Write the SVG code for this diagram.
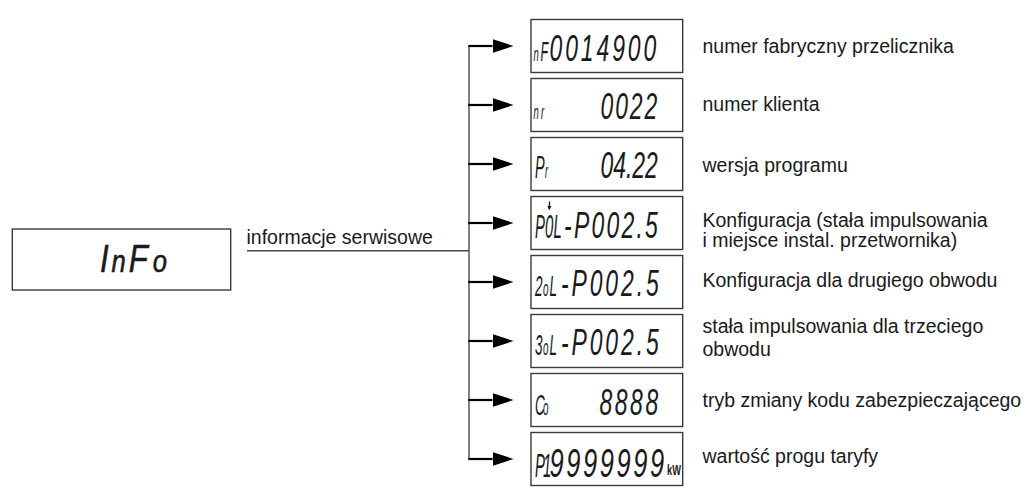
<svg xmlns="http://www.w3.org/2000/svg" width="1035" height="494" viewBox="0 0 1035 494">
  <style>
    .box { fill: #ffffff; stroke: #3a3a3a; stroke-width: 1.4; }
    .lcd { font-family: "Liberation Sans", Arial, sans-serif; font-style: italic; fill: #1a1a1a; }
    .big { font-size: 37px; }
    .lbl { font-family: "Liberation Sans", Arial, sans-serif; font-size: 19.5px; fill: #1a1a1a; }
    .bus { fill: none; stroke: #4a4a4a; stroke-width: 1.4; }
    .shaft { fill: none; stroke: #000000; stroke-width: 2.2; marker-end: url(#head); }
  </style>
  <defs>
    <marker id="head" viewBox="0 0 21 14" refX="0" refY="7" markerWidth="21" markerHeight="14" markerUnits="userSpaceOnUse" orient="auto">
      <polygon points="0,0 21,7 0,14" fill="#000000"/>
    </marker>
  </defs>
  <rect width="1035" height="494" fill="#ffffff"/>

  <!-- connectors: feed line, vertical bus and one arrow per display -->
  <g id="connectors">
    <line class="bus" x1="247" y1="250.7" x2="469" y2="250.7"/>
    <line class="bus" x1="469" y1="46" x2="469" y2="459"/>
    <line class="shaft" x1="468.3" y1="46" x2="492.5" y2="46"/>
    <line class="shaft" x1="468.3" y1="105" x2="492.5" y2="105"/>
    <line class="shaft" x1="468.3" y1="164" x2="492.5" y2="164"/>
    <line class="shaft" x1="468.3" y1="223" x2="492.5" y2="223"/>
    <line class="shaft" x1="468.3" y1="282" x2="492.5" y2="282"/>
    <line class="shaft" x1="468.3" y1="341" x2="492.5" y2="341"/>
    <line class="shaft" x1="468.3" y1="400" x2="492.5" y2="400"/>
    <line class="shaft" x1="468.3" y1="459" x2="492.5" y2="459"/>
    <text class="lbl" x="246.5" y="244">informacje serwisowe</text>
  </g>

  <!-- main menu display -->
  <g id="node-info">
    <rect class="box" x="12.3" y="229" width="218.4" height="61"/>
    <text class="lcd" transform="translate(0,271.5) scale(0.8,1)" stroke="#1a1a1a" stroke-width="0.6"><tspan x="125" font-size="39">I</tspan><tspan x="139.5" font-size="32">n</tspan><tspan x="161" font-size="39">F</tspan><tspan x="191" font-size="32">o</tspan></text>
  </g>

  <!-- nF: serial number -->
  <g id="node-nf">
    <rect class="box" x="531" y="19.5" width="151.7" height="53"/>
    <text class="lcd" transform="translate(531,60.5) scale(0.45,1)"><tspan x="5.6" font-size="21">n</tspan><tspan x="21.1" font-size="28">F</tspan></text>
    <text class="lcd big" transform="translate(531,60.5) scale(0.62,1)" x="29.8" letter-spacing="4.7">0014900</text>
    <text class="lbl" x="702.5" y="52.7">numer fabryczny przelicznika</text>
  </g>

  <!-- nr: customer number -->
  <g id="node-nr">
    <rect class="box" x="531" y="78.5" width="151.7" height="53"/>
    <text class="lcd" transform="translate(531,119) scale(0.45,1)" font-size="21"><tspan x="5.6">n</tspan><tspan x="22.2">r</tspan></text>
    <text class="lcd big" transform="translate(531,119) scale(0.62,1)" x="112.1" letter-spacing="3.1">0022</text>
    <text class="lbl" x="702.5" y="110.5">numer klienta</text>
  </g>

  <!-- Pr: program version -->
  <g id="node-pr">
    <rect class="box" x="531" y="137.5" width="151.7" height="53"/>
    <text class="lcd" transform="translate(531,178) scale(0.45,1)"><tspan x="8.9" font-size="32">P</tspan><tspan x="31.1" font-size="21">r</tspan></text>
    <text class="lcd big" transform="translate(531,178) scale(0.62,1)" x="112.1">04.22</text>
    <text class="lbl" x="702.5" y="171.5">wersja programu</text>
  </g>

  <!-- P0L: configuration, with position indicator above the digit -->
  <g id="node-pol">
    <rect class="box" x="531" y="196.5" width="151.7" height="53"/>
    <line x1="549.6" y1="201.5" x2="549.3" y2="207" stroke="#1a1a1a" stroke-width="1.3"/>
    <polygon points="547.4,206 551.4,206 549.2,210.5" fill="#1a1a1a"/>
    <text class="lcd" transform="translate(531,237.5) scale(0.45,1)" font-size="33"><tspan x="8.9">P</tspan><tspan x="31.1">0</tspan><tspan x="50">L</tspan></text>
    <text class="lcd big" transform="translate(531,237.5) scale(0.62,1)"><tspan x="53.2">-</tspan><tspan x="69.4" letter-spacing="3.6">P002.5</tspan></text>
    <text class="lbl"><tspan x="702.5" y="226.7">Konfiguracja (stała impulsowania</tspan><tspan x="702.5" y="247.3">i miejsce instal. przetwornika)</tspan></text>
  </g>

  <!-- 2oL: second circuit -->
  <g id="node-2ol">
    <rect class="box" x="531" y="255.5" width="151.7" height="53"/>
    <text class="lcd" transform="translate(531,296) scale(0.45,1)"><tspan x="8.9" font-size="30">2</tspan><tspan x="26.7" font-size="22">o</tspan><tspan x="41.1" font-size="30">L</tspan></text>
    <text class="lcd big" transform="translate(531,296) scale(0.62,1)"><tspan x="48.4">-</tspan><tspan x="65.3" letter-spacing="4.7">P002.5</tspan></text>
    <text class="lbl" x="702.5" y="286.5">Konfiguracja dla drugiego obwodu</text>
  </g>

  <!-- 3oL: third circuit -->
  <g id="node-3ol">
    <rect class="box" x="531" y="314.5" width="151.7" height="53"/>
    <text class="lcd" transform="translate(531,355) scale(0.45,1)"><tspan x="8.9" font-size="30">3</tspan><tspan x="26.7" font-size="22">o</tspan><tspan x="41.1" font-size="30">L</tspan></text>
    <text class="lcd big" transform="translate(531,355) scale(0.62,1)"><tspan x="48.4">-</tspan><tspan x="65.3" letter-spacing="4.7">P002.5</tspan></text>
    <text class="lbl"><tspan x="702.5" y="333.3">stała impulsowania dla trzeciego</tspan><tspan x="702.5" y="356">obwodu</tspan></text>
  </g>

  <!-- Co: security code change -->
  <g id="node-co">
    <rect class="box" x="531" y="373.5" width="151.7" height="53"/>
    <text class="lcd" transform="translate(531,414.5) scale(0.45,1)"><tspan x="8.9" font-size="30">C</tspan><tspan x="26.7" font-size="22">o</tspan></text>
    <text class="lcd big" transform="translate(531,414.5) scale(0.62,1)" x="110.5" letter-spacing="4.1">8888</text>
    <text class="lbl" x="702.5" y="406.7">tryb zmiany kodu zabezpieczającego</text>
  </g>

  <!-- P1: tariff threshold -->
  <g id="node-p1">
    <rect class="box" x="531" y="432.5" width="151.7" height="53"/>
    <text class="lcd" transform="translate(531,476.5) scale(0.45,1)" font-size="33"><tspan x="8.9">P</tspan><tspan x="26.7">1</tspan></text>
    <text class="lcd" transform="translate(531,476.5) scale(0.62,1)"><tspan x="29.8" font-size="41" letter-spacing="4.2">9999999</tspan><tspan x="219.5" y="-1.5" font-size="15" font-weight="bold" font-style="normal">kW</tspan></text>
    <text class="lbl" x="702.5" y="463.3">wartość progu taryfy</text>
  </g>
</svg>
